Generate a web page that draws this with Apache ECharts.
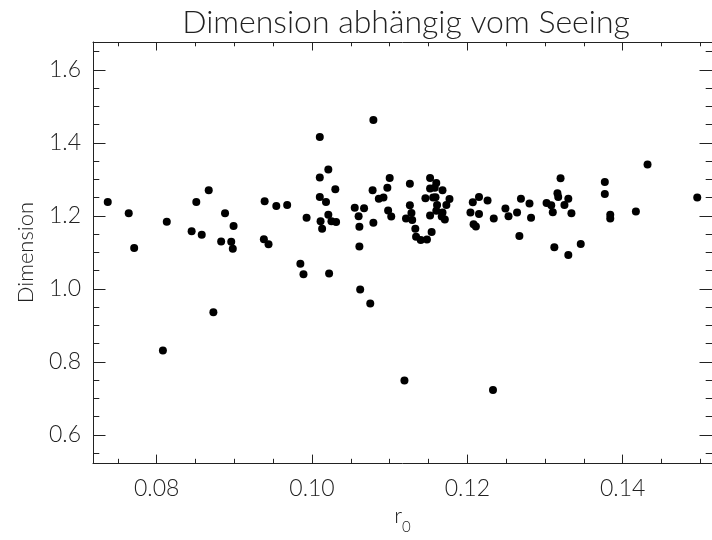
<!DOCTYPE html>
<html>
<head>
<meta charset="utf-8">
<script src="https://cdn.jsdelivr.net/npm/echarts@6/dist/echarts.min.js"></script>
<style>html,body{margin:0;padding:0;background:#fff}#c{width:712px;height:540px}</style>
</head>
<body>
<div id="c"></div>
<script>
// r0 values (x)
const r0 = [
  0.0737,0.0764,0.0771,0.0813,0.0845,0.0851,0.0858,0.0867,0.0873,0.0883,0.0888,0.0896,0.0899,0.0898,0.0938,0.0939,0.0944,0.0954,0.0968,0.0985,0.0989,0.0993,
  0.1010,0.1021,0.1010,0.1030,0.1010,0.1018,0.1021,0.1011,0.1025,0.1031,0.1013,0.1022,
  0.1055,0.1067,0.1060,0.1061,0.1061,0.1062,0.1075,0.1079,0.1078,0.1079,0.1086,0.1092,0.1097,0.1100,0.1098,0.1102,
  0.1126,0.1126,0.1128,0.1121,0.1129,0.1133,0.1134,0.1140,0.1148,0.1154,
  0.1152,0.1160,0.1152,0.1158,0.1168,0.1146,0.1156,0.1159,0.1177,0.1161,0.1173,0.1160,0.1152,0.1168,0.1167,0.1171,
  0.1204,0.1207,0.1215,0.1226,0.1215,0.1208,0.1211,0.1234,
  0.1249,0.1253,0.1264,0.1267,0.1269,0.1280,0.1282,0.1302,0.1308,0.1310,0.1312,0.1316,0.1317,0.1320,0.1325,0.1330,0.1330,0.1334,0.1346,0.1377,0.1377,0.1384,0.1384,0.1417,0.1432,0.1496,
  0.0808,0.1119,0.1233
];
// Dimension values (y)
const dimension = [
  1.238,1.207,1.112,1.184,1.158,1.238,1.148,1.270,0.936,1.130,1.207,1.129,1.172,1.110,1.136,1.240,1.122,1.227,1.230,1.069,1.040,1.195,
  1.416,1.327,1.305,1.273,1.252,1.238,1.203,1.185,1.185,1.183,1.165,1.042,
  1.222,1.221,1.199,1.170,1.116,0.998,0.960,1.463,1.270,1.181,1.247,1.250,1.277,1.304,1.215,1.198,
  1.288,1.229,1.208,1.193,1.189,1.165,1.143,1.134,1.135,1.156,
  1.304,1.290,1.275,1.277,1.270,1.248,1.250,1.251,1.246,1.230,1.230,1.214,1.201,1.209,1.198,1.190,
  1.209,1.237,1.252,1.242,1.205,1.177,1.171,1.193,
  1.220,1.199,1.209,1.145,1.247,1.234,1.195,1.235,1.229,1.210,1.114,1.262,1.252,1.303,1.230,1.247,1.093,1.207,1.123,1.293,1.260,1.203,1.193,1.212,1.341,1.250,
  0.831,0.749,0.723
];
const xRange = [0.0718, 0.1515];
const yRange = [0.5224, 1.6765];
const titleText = 'Dimension abhängig vom Seeing';
const xName = 'r';
const xNameSub = '0';
const yName = 'Dimension';

const FONT = 'Lato, "Liberation Sans", sans-serif';
const LINE = '#222';
const TXT = '#222';

const points = r0.map((x, i) => [x, dimension[i]]);

function xAxisCfg(pos, showLabels) {
  return {
    type: 'value', position: pos, gridIndex: 0,
    min: xRange[0], max: xRange[1],
    axisLine: {show: true, onZero: false, lineStyle: {color: LINE, width: 1}},
    axisTick: {show: true, inside: true, length: 8.5, lineStyle: {color: LINE, width: 1}},
    minorTick: {show: true, splitNumber: 4, length: 4.3, lineStyle: {color: LINE, width: 1}},
    splitLine: {show: false},
    axisLabel: {
      show: showLabels, margin: 14, color: TXT, fontSize: 23, fontFamily: FONT, fontWeight: 300,
      showMinLabel: false, showMaxLabel: false,
      formatter: v => v.toFixed(2)
    },
    name: showLabels ? '{r|' + xName + '}{s|' + xNameSub + '}' : '',
    nameLocation: 'middle', nameGap: 38,
    nameTextStyle: {
      color: TXT, fontFamily: FONT, fontWeight: 300,
      rich: {
        r: {fontSize: 22, fontFamily: FONT, fontWeight: 300, color: TXT, verticalAlign: 'top', lineHeight: 22},
        s: {fontSize: 15, fontFamily: FONT, fontWeight: 300, color: TXT, verticalAlign: 'bottom', lineHeight: 30}
      }
    }
  };
}
function yAxisCfg(pos, showLabels) {
  return {
    type: 'value', position: pos, gridIndex: 0,
    min: yRange[0], max: yRange[1],
    axisLine: {show: true, onZero: false, lineStyle: {color: LINE, width: 1}},
    axisTick: {show: true, inside: true, length: 12.5, lineStyle: {color: LINE, width: 1}},
    minorTick: {show: true, splitNumber: 4, length: 6.3, lineStyle: {color: LINE, width: 1}},
    splitLine: {show: false},
    axisLabel: {
      show: showLabels, margin: 12, color: TXT, fontSize: 23, fontFamily: FONT, fontWeight: 300,
      showMinLabel: false, showMaxLabel: false,
      formatter: v => v.toFixed(1)
    },
    name: showLabels ? yName : '',
    nameLocation: 'middle', nameGap: 56, nameRotate: 90,
    nameTextStyle: {color: TXT, fontSize: 22, fontFamily: FONT, fontWeight: 300}
  };
}

const chart = echarts.init(document.getElementById('c'), null, {renderer: 'canvas'});
chart.setOption({
  animation: false,
  backgroundColor: '#fff',
  grid: {left: 93, right: -7, top: 42, bottom: 71, containLabel: false},
  xAxis: [xAxisCfg('bottom', true), xAxisCfg('top', false)],
  yAxis: [yAxisCfg('left', true), yAxisCfg('right', false)],
  graphic: [{
    type: 'text', x: 406, y: 23,
    style: {text: titleText, textAlign: 'center', textVerticalAlign: 'middle',
            fontSize: 32, fontFamily: FONT, fontWeight: 300, fill: TXT}
  }],
  series: [{
    type: 'scatter', xAxisIndex: 0, yAxisIndex: 0,
    data: points, symbol: 'circle', symbolSize: 8,
    itemStyle: {color: '#000', opacity: 1}, clip: false
  }]
});
</script>
</body>
</html>
